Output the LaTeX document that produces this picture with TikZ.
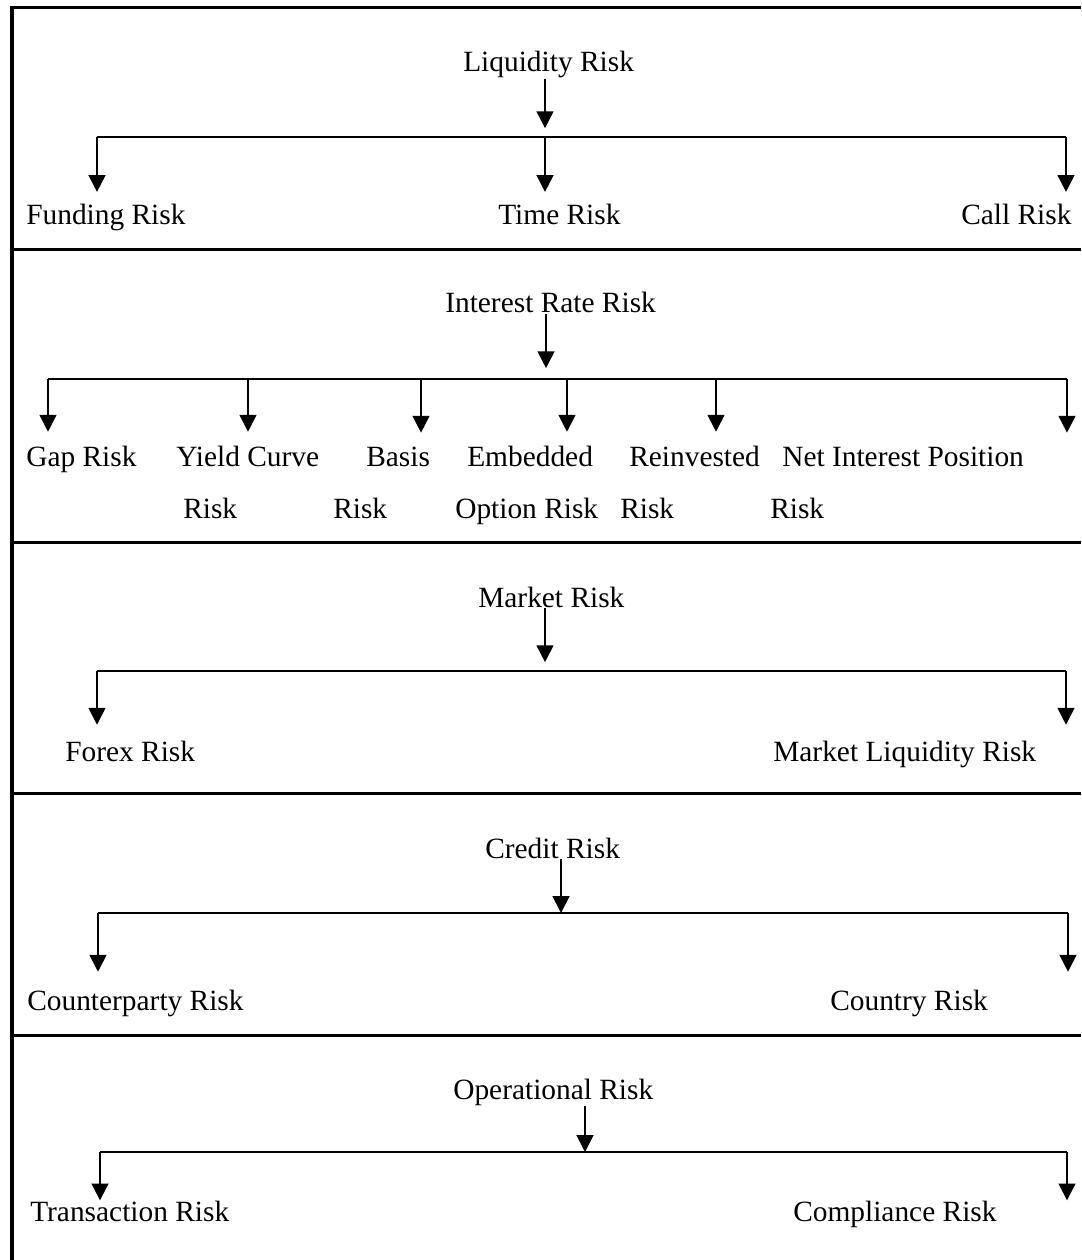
\documentclass[tikz,border=0pt]{standalone}
\usepackage{fontspec}
\setmainfont{Liberation Serif}
\usetikzlibrary{arrows.meta}

\begin{document}
\begin{tikzpicture}[
    x=0.025cm, y=-0.025cm,
    frame/.style={draw=black, line width=0.075cm},
    wire/.style={draw=black, line width=0.045cm},
    arr/.style={wire, -{Triangle[length=0.42cm, width=0.42cm]}},
    lbl/.style={anchor=base west, inner sep=0pt, font=\fontsize{20.9}{25}\selectfont}
  ]
  \useasboundingbox (0,0) rectangle (1081,1260);

  % frame and section rules
  \draw[frame] (1081,8) -- (12,8) -- (12,1260);
  \foreach \y in {250,542,793,1035}
    \draw[frame] (12,\y) -- (1081,\y);

  % Liquidity Risk
  \node[lbl] (liq) at (463,72) {Liquidity Risk};
  \node[lbl] (fund) at (26,225) {Funding Risk};
  \node[lbl] (time) at (498,225) {Time Risk};
  \node[lbl] (call) at (961,225) {Call Risk};
  \coordinate (liqL) at (97,137);
  \coordinate (liqM) at (545,137);
  \coordinate (liqR) at (1066,137);
  \draw[wire] (liqL) -- (liqR);
  \draw[arr, shorten >=0.22cm] (liqM |- liq.south) -- (liqM);
  \foreach \b/\c in {liqL/fund, liqM/time, liqR/call}
    \draw[arr, shorten >=0.31cm] (\b) -- (\b |- \c.north);

  % Interest Rate Risk
  \node[lbl] (irr) at (445,313) {Interest Rate Risk};
  \node[lbl] (gap) at (26,466) {Gap Risk};
  \node[lbl] (yc) at (176,466) {Yield Curve};
  \node[lbl] (basis) at (366,466) {Basis};
  \node[lbl] (emb) at (467,466) {Embedded};
  \node[lbl] (reinv) at (629,466) {Reinvested};
  \node[lbl] (nip) at (782,466) {Net Interest Position};
  \node[lbl] (yc2) at (183,518) {Risk};
  \node[lbl] (basis2) at (333,518) {Risk};
  \node[lbl] (emb2) at (455,518) {Option Risk};
  \node[lbl] (reinv2) at (620,518) {Risk};
  \node[lbl] (nip2) at (770,518) {Risk};
  \coordinate (irrM) at (546,379);
  \coordinate (irrA) at (48,379);
  \coordinate (irrB) at (248,379);
  \coordinate (irrC) at (421,379);
  \coordinate (irrD) at (567,379);
  \coordinate (irrE) at (716,379);
  \coordinate (irrF) at (1067,379);
  \draw[wire] (irrA) -- (irrF);
  \draw[arr, shorten >=0.27cm] (irrM |- irr.south) -- (irrM);
  \foreach \b/\c in {irrA/gap, irrB/yc, irrC/basis, irrD/emb, irrE/reinv, irrF/nip}
    \draw[arr, shorten >=0.34cm] (\b) -- (\b |- \c.north);

  % Market Risk
  \node[lbl] (mkt) at (478,607) {Market Risk};
  \node[lbl] (forex) at (65,761) {Forex Risk};
  \node[lbl] (mliq) at (773,761) {Market Liquidity Risk};
  \coordinate (mktL) at (97,671);
  \coordinate (mktM) at (545,671);
  \coordinate (mktR) at (1066,671);
  \draw[wire] (mktL) -- (mktR);
  \draw[arr, shorten >=0.22cm] (mktM |- mkt.south) -- (mktM);
  \foreach \b/\c in {mktL/forex, mktR/mliq}
    \draw[arr, shorten >=0.39cm] (\b) -- (\b |- \c.north);

  % Credit Risk
  \node[lbl] (cred) at (485,858) {Credit Risk};
  \node[lbl] (cpty) at (27,1010) {Counterparty Risk};
  \node[lbl] (ctry) at (830,1010) {Country Risk};
  \coordinate (credL) at (98,913);
  \coordinate (credM) at (561,913);
  \coordinate (credR) at (1068,913);
  \draw[wire] (credL) -- (credR);
  \draw[arr] (credM |- cred.south) -- (credM);
  \foreach \b/\c in {credL/cpty, credR/ctry}
    \draw[arr, shorten >=0.44cm] (\b) -- (\b |- \c.north);

  % Operational Risk
  \node[lbl] (oper) at (453,1099) {Operational Risk};
  \node[lbl] (trans) at (30,1221) {Transaction Risk};
  \node[lbl] (comp) at (793,1221) {Compliance Risk};
  \coordinate (operL) at (100,1152);
  \coordinate (operM) at (585,1152);
  \coordinate (operR) at (1067,1152);
  \draw[wire] (operL) -- (operR);
  \draw[arr] (operM |- oper.south) -- (operM);
  \foreach \b/\c in {operL/trans, operR/comp}
    \draw[arr] (\b) -- (\b |- \c.north);
\end{tikzpicture}
\end{document}
